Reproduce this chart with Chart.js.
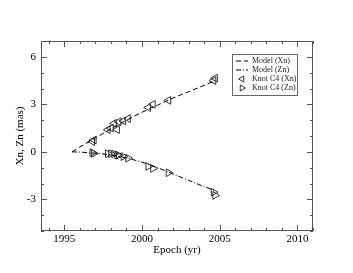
<!DOCTYPE html>
<html>
<head>
<meta charset="utf-8">
<script src="https://cdn.jsdelivr.net/npm/chart.js@4/dist/chart.umd.min.js"></script>
<style>
    html, body { margin: 0; padding: 0; background: #fff; }
    #wrap { width: 353px; height: 273px; }
</style>
</head>
<body>
<div id="wrap"><canvas id="chart"></canvas></div>
<script>
// --- DATA ---
const modelYears = [1995.5, 1996, 1997, 1998, 1999, 2000, 2001, 2002, 2003, 2004, 2004.7];
const modelXn = [0, 0.3, 0.88, 1.45, 2.0, 2.5, 2.95, 3.4, 3.8, 4.2, 4.5];
const modelZn = [0, -0.02, -0.08, -0.2, -0.38, -0.65, -1.0, -1.4, -1.8, -2.2, -2.45];

const knotYears = [1996.8, 1996.9, 1997.8, 1998.0, 1998.2, 1998.4, 1998.5, 1998.8, 1999.1, 2000.4, 2000.7, 2001.7, 2004.6, 2004.7];
const knotXn = [0.65, 0.75, 1.4, 1.5, 1.8, 1.4, 1.9, 1.95, 2.1, 2.8, 3.0, 3.25, 4.5, 4.65];
const knotZn = [-0.05, -0.1, -0.12, -0.12, -0.13, -0.2, -0.22, -0.3, -0.4, -0.92, -1.05, -1.32, -2.55, -2.75];

const seriesLabels = ['Model (Xn)', 'Model (Zn)', 'Knot C4 (Xn)', 'Knot C4 (Zn)'];
const xTicks = [1995, 2000, 2005, 2010];
const yTicks = [-3, 0, 3, 6];

const FONT = '"Liberation Serif", "Times New Roman", serif';
const toPts = (xs, ys) => xs.map((x, i) => ({ x, y: ys[i] }));

// --- PLUGINS ---
// frame with inward major/minor ticks on all four sides
const frameTicks = {
    id: 'frameTicks',
    afterDatasetsDraw(chart) {
        const { ctx, chartArea: a, scales: { x, y } } = chart;
        ctx.save();
        ctx.strokeStyle = '#555';
        ctx.lineWidth = 1;
        ctx.strokeRect(a.left + 0.5, a.top + 0.5, a.right - a.left - 1, a.bottom - a.top - 1);
        ctx.beginPath();
        for (let v = Math.ceil(x.min); v <= x.max; v++) {
            const px = Math.round(x.getPixelForValue(v)) + 0.5;
            const len = v % 5 === 0 ? 6 : 3;
            ctx.moveTo(px, a.bottom); ctx.lineTo(px, a.bottom - len);
            ctx.moveTo(px, a.top); ctx.lineTo(px, a.top + len);
        }
        for (let v = Math.ceil(y.min); v <= y.max; v++) {
            const py = Math.round(y.getPixelForValue(v)) + 0.5;
            const len = v % 3 === 0 ? 6 : 3;
            ctx.moveTo(a.left, py); ctx.lineTo(a.left + len, py);
            ctx.moveTo(a.right, py); ctx.lineTo(a.right - len, py);
        }
        ctx.stroke();
        ctx.restore();
    }
};

// boxed legend in the upper right of the plot
const boxLegend = {
    id: 'boxLegend',
    afterDraw(chart) {
        const { ctx, chartArea: a } = chart;
        const w = 65, h = 41, rowH = 9;
        const left = a.right - 16 - w, top = a.top + 13;
        ctx.save();
        ctx.fillStyle = '#fff';
        ctx.fillRect(left, top, w, h);
        ctx.strokeStyle = '#666';
        ctx.lineWidth = 1;
        ctx.strokeRect(left + 0.5, top + 0.5, w, h);
        ctx.font = '8px ' + FONT;
        ctx.textBaseline = 'middle';
        chart.data.datasets.forEach((ds, i) => {
            const cy = top + 7 + i * rowH;
            if (ds.showLine) {
                ctx.strokeStyle = '#000';
                ctx.setLineDash(ds.borderDash);
                ctx.beginPath();
                ctx.moveTo(left + 4, cy); ctx.lineTo(left + 16, cy);
                ctx.stroke();
                ctx.setLineDash([]);
            } else {
                ctx.fillStyle = 'rgba(0,0,0,0)';
                ctx.strokeStyle = ds.pointBorderColor;
                Chart.helpers.drawPoint(ctx, {
                    pointStyle: 'triangle', rotation: ds.pointRotation,
                    radius: 3.5, borderWidth: 1
                }, left + 10, cy);
            }
            ctx.fillStyle = '#222';
            ctx.fillText(ds.label, left + 20, cy);
        });
        ctx.restore();
    }
};

// --- CHART ---
const lineDs = (label, ys, dash) => ({
    label, data: toPts(modelYears, ys), showLine: true,
    borderColor: '#000', borderWidth: 1, borderDash: dash,
    pointRadius: 0, fill: false
});
const knotDs = (label, ys, rot) => ({
    label, data: toPts(knotYears, ys), showLine: false,
    pointStyle: 'triangle', pointRotation: rot, pointRadius: 4.5,
    pointBorderColor: '#333', pointBackgroundColor: 'rgba(0,0,0,0)', pointBorderWidth: 1
});

new Chart(document.getElementById('chart'), {
    type: 'scatter',
    data: {
        datasets: [
            lineDs(seriesLabels[0], modelXn, [5, 3]),
            lineDs(seriesLabels[1], modelZn, [5, 2, 1, 2]),
            knotDs(seriesLabels[2], knotXn, -90),
            knotDs(seriesLabels[3], knotZn, 90)
        ]
    },
    options: {
        responsive: true,
        maintainAspectRatio: false,
        animation: false,
        layout: { padding: { top: 41, right: 40 } },
        plugins: { legend: { display: false }, tooltip: { enabled: false } },
        scales: {
            x: {
                type: 'linear', min: 1993.5, max: 2011,
                afterBuildTicks: s => { s.ticks = xTicks.map(v => ({ value: v })); },
                afterFit: s => { s.height = 42; },
                grid: { display: false, drawTicks: false, tickLength: 0 },
                border: { display: false },
                ticks: { color: '#000', font: { family: FONT, size: 11 }, padding: 2, maxRotation: 0, callback: v => String(v) },
                title: { display: true, text: 'Epoch (yr)', color: '#000', font: { family: FONT, size: 11 }, padding: { top: 16, bottom: 16 } }
            },
            y: {
                type: 'linear', min: -5, max: 7,
                afterBuildTicks: s => { s.ticks = yTicks.map(v => ({ value: v })); },
                afterFit: s => { s.width = 41; },
                grid: { display: false, drawTicks: false, tickLength: 0 },
                border: { display: false },
                ticks: { color: '#000', font: { family: FONT, size: 11 }, padding: 5, callback: v => String(v) },
                title: { display: true, text: 'Xn, Zn (mas)', color: '#000', font: { family: FONT, size: 11 }, padding: { top: 14, bottom: 14 } }
            }
        }
    },
    plugins: [frameTicks, boxLegend]
});
</script>
</body>
</html>
